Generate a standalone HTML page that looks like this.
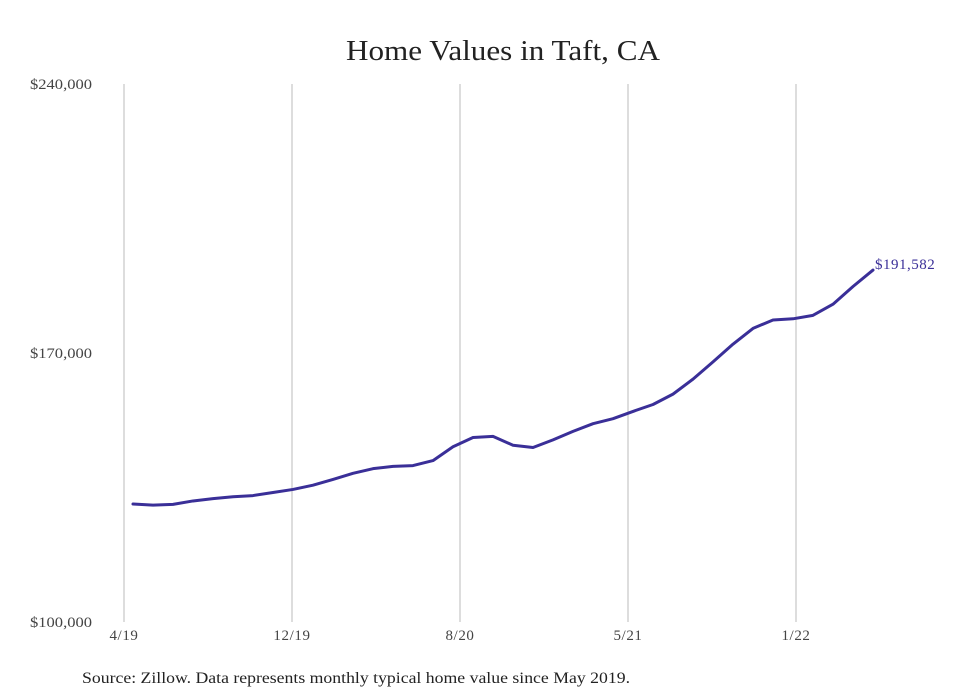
<!DOCTYPE html>
<html><head><meta charset="utf-8"><style>
body{margin:0;background:#fff;}
svg{display:block;font-family:"Liberation Serif",serif;}
</style></head><body>
<svg id="chart" width="980" height="699">
<text x="346" y="60" font-size="29" fill="#222" textLength="314" lengthAdjust="spacingAndGlyphs">Home Values in Taft, CA</text>
<g id="grid"></g>
<g id="yaxis"></g>
<g id="xaxis"></g>
<g id="series"></g>
<text x="82" y="683" font-size="15.5" fill="#222" textLength="548" lengthAdjust="spacingAndGlyphs">Source: Zillow. Data represents monthly typical home value since May 2019.</text>
</svg>
<script>
const values=[130700,130400,130600,131500,132100,132600,132900,133700,134500,135600,137100,138700,139900,140500,140700,142000,145600,148000,148300,146000,145400,147400,149600,151600,152900,154800,156600,159300,163200,167700,172300,176400,178600,178900,179800,182700,187300,191582];
const yTicks=[100000,170000,240000];
const yTickLabels=["$100,000","$170,000","$240,000"];
const xTickLabels=["4/19","12/19","8/20","5/21","1/22"];
const endLabel="$191,582";
const NS="http://www.w3.org/2000/svg";
function y(v){return 622-(v-100000)/140000*538;}
function xPt(i){return 133+i*20;}
function xTick(i){return 124+i*168;}
function mk(t,a,p){const e=document.createElementNS(NS,t);for(const k in a)e.setAttribute(k,a[k]);p.appendChild(e);return e;}
const grid=document.getElementById('grid'),ya=document.getElementById('yaxis'),xa=document.getElementById('xaxis'),s=document.getElementById('series');
yTicks.forEach((v,i)=>{const t=mk('text',{x:30,y:y(v)+5,'font-size':15,fill:'#444',textLength:62,lengthAdjust:'spacingAndGlyphs'},ya);t.textContent=yTickLabels[i];

});
xTickLabels.forEach((l,i)=>{const g=mk('line',{x1:xTick(i),x2:xTick(i),y1:84,y2:622,stroke:'#bbb','stroke-width':1},grid);


const t=mk('text',{x:xTick(i),y:640,'text-anchor':'middle','font-size':15,fill:'#444','letter-spacing':0.6},xa);t.textContent=l;

});
const pts=values.map((v,i)=>xPt(i)+','+y(v)).join(' ');
const pl=mk('polyline',{points:pts,fill:'none',stroke:'#3a2f98','stroke-width':3,'stroke-linejoin':'round','stroke-linecap':'round'},s);


const li=values.length-1;
const el=mk('text',{x:xPt(li)+2,y:y(values[li])-1,'font-size':15,fill:'#3a2f98','letter-spacing':0.5},s);el.textContent=endLabel;


</script>
</body></html>
